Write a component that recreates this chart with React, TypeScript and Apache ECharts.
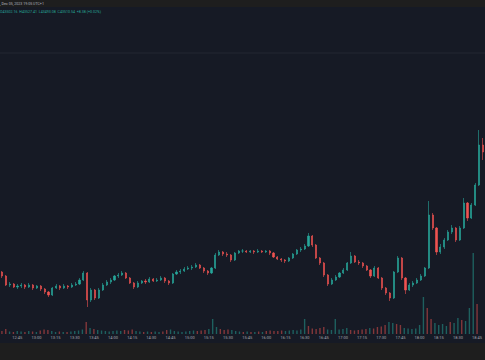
import React, { useEffect, useRef } from "react";
import * as echarts from "echarts";

// 3-minute candles from 12:33 to 18:45 (Dec 05, 2023)
const startMinutes = 12 * 60 + 33;
const candleCount = 125;
const times: string[] = [];
for (let i = 0; i < candleCount; i++) {
  const m = startMinutes + i * 3;
  const hh = Math.floor(m / 60);
  const mm = m % 60;
  times.push(`${hh}:${mm < 10 ? "0" + mm : mm}`);
}

const opens = [
  42280, 42240, 42150, 42160, 42130, 42140, 42150, 42130, 42150, 42120,
  42140, 42110, 42080, 42050, 42120, 42140, 42120, 42140, 42130, 42150,
  42160, 42200, 42270, 42000, 42100, 42020, 42100, 42150, 42180, 42200,
  42240, 42250, 42270, 42220, 42170, 42130, 42170, 42190, 42180, 42210,
  42190, 42200, 42220, 42190, 42170, 42260, 42280, 42290, 42310, 42320,
  42330, 42350, 42320, 42290, 42270, 42320, 42450, 42480, 42460, 42450,
  42400, 42470, 42490, 42490, 42480, 42490, 42480, 42490, 42480, 42490,
  42470, 42430, 42410, 42400, 42390, 42420, 42460, 42500, 42510, 42540,
  42640, 42550, 42420, 42370, 42250, 42160, 42200, 42230, 42270, 42300,
  42370, 42440, 42380, 42370, 42340, 42300, 42240, 42320, 42220, 42120,
  42070, 42020, 42280, 42420, 42220, 42100, 42150, 42170, 42200, 42240,
  42320, 42850, 42720, 42480, 42530, 42600, 42680, 42720, 42600, 42720,
  42970, 42820, 42950, 43150, 43550,
];
const closes = [
  42240, 42150, 42160, 42130, 42140, 42150, 42130, 42150, 42120, 42140,
  42110, 42080, 42050, 42120, 42140, 42120, 42140, 42130, 42150, 42160,
  42200, 42270, 42000, 42100, 42020, 42100, 42150, 42180, 42200, 42240,
  42250, 42270, 42220, 42170, 42130, 42170, 42190, 42180, 42210, 42190,
  42200, 42220, 42190, 42170, 42260, 42280, 42290, 42310, 42320, 42330,
  42350, 42320, 42290, 42270, 42320, 42450, 42480, 42460, 42450, 42400,
  42470, 42490, 42490, 42480, 42490, 42480, 42490, 42480, 42490, 42470,
  42430, 42410, 42400, 42390, 42420, 42460, 42500, 42510, 42540, 42640,
  42550, 42420, 42370, 42250, 42160, 42200, 42230, 42270, 42300, 42370,
  42440, 42380, 42370, 42340, 42300, 42240, 42320, 42220, 42120, 42070,
  42020, 42280, 42420, 42220, 42100, 42150, 42170, 42200, 42240, 42320,
  42850, 42720, 42480, 42530, 42600, 42680, 42720, 42600, 42720, 42970,
  42820, 42950, 43150, 43550, 43480,
];
const lows = [
  42220, 42140, 42130, 42120, 42110, 42120, 42110, 42120, 42100, 42110,
  42090, 42060, 42030, 42040, 42110, 42100, 42110, 42110, 42120, 42140,
  42150, 42190, 41930, 41980, 42000, 42010, 42090, 42140, 42160, 42190,
  42220, 42240, 42210, 42160, 42110, 42120, 42160, 42160, 42170, 42180,
  42180, 42190, 42170, 42150, 42160, 42250, 42260, 42280, 42300, 42300,
  42320, 42310, 42270, 42250, 42260, 42310, 42440, 42440, 42430, 42380,
  42390, 42460, 42470, 42470, 42470, 42460, 42470, 42470, 42470, 42450,
  42420, 42400, 42380, 42370, 42380, 42410, 42450, 42480, 42500, 42530,
  42530, 42410, 42350, 42230, 42140, 42150, 42190, 42220, 42260, 42290,
  42360, 42370, 42350, 42320, 42290, 42220, 42230, 42210, 42100, 42050,
  41990, 42010, 42270, 42200, 42060, 42090, 42130, 42160, 42190, 42230,
  42310, 42700, 42450, 42460, 42510, 42590, 42660, 42580, 42590, 42710,
  42790, 42810, 42940, 43140, 43400,
];
const highs = [
  42290, 42250, 42180, 42170, 42160, 42170, 42160, 42170, 42160, 42150,
  42150, 42120, 42090, 42130, 42160, 42150, 42160, 42150, 42170, 42180,
  42220, 42290, 42280, 42120, 42110, 42120, 42170, 42200, 42220, 42250,
  42270, 42290, 42280, 42230, 42180, 42190, 42200, 42210, 42230, 42220,
  42220, 42240, 42230, 42200, 42270, 42300, 42310, 42330, 42340, 42350,
  42370, 42360, 42330, 42300, 42330, 42470, 42500, 42490, 42480, 42460,
  42480, 42500, 42510, 42500, 42500, 42500, 42510, 42500, 42500, 42500,
  42480, 42440, 42420, 42410, 42430, 42470, 42510, 42530, 42560, 42670,
  42650, 42560, 42430, 42380, 42260, 42220, 42250, 42280, 42320, 42380,
  42480, 42450, 42400, 42380, 42350, 42310, 42340, 42330, 42230, 42130,
  42080, 42290, 42440, 42430, 42230, 42170, 42190, 42220, 42260, 42330,
  42990, 42870, 42730, 42560, 42620, 42700, 42750, 42730, 42740, 43020,
  42980, 42970, 43170, 43700, 43620,
];
const volumes = [
  30, 50, 25, 20, 30, 25, 20, 30, 25, 20,
  35, 45, 40, 30, 20, 25, 20, 20, 25, 30,
  35, 45, 120, 60, 50, 40, 35, 30, 25, 30,
  35, 30, 40, 35, 45, 30, 25, 20, 25, 20,
  25, 20, 25, 40, 45, 30, 25, 20, 25, 30,
  35, 30, 35, 40, 50, 150, 70, 50, 40, 45,
  40, 30, 25, 20, 25, 20, 20, 25, 20, 30,
  35, 30, 30, 35, 30, 35, 40, 35, 45, 150,
  80, 55, 50, 60, 70, 45, 40, 150, 45, 50,
  60, 40, 35, 40, 45, 50, 60, 55, 70, 75,
  90, 120, 110, 100, 90, 60, 55, 50, 55, 90,
  370, 260, 150, 110, 90, 100, 80, 120, 110, 160,
  140, 130, 260, 810, 300,
];

const headerLine1 = ", Dec 05, 2023 19:05 UTC+1";
const headerLine2 = "O43502.16  H43527.41  L43493.08  C43510.54  +8.38 (+0.02%)";

const UP = "#26a69a";
const DOWN = "#ef5350";

export default function App() {
  const ref = useRef<HTMLDivElement>(null);
  useEffect(() => {
    if (!ref.current) return;
    const chart = echarts.init(ref.current, undefined, { renderer: "svg" });
    const candleData = opens.map((o, i) => [o, closes[i], lows[i], highs[i]]);
    const volData = volumes.map((v, i) => ({
      value: v,
      itemStyle: {
        color: closes[i] >= opens[i] ? "rgba(38,166,154,0.5)" : "rgba(239,83,80,0.5)",
      },
    }));
    chart.setOption({
      animation: false,
      backgroundColor: "transparent",
      grid: [
        { left: -1.5, right: -1.5, top: 20, height: 320 },
        { left: -1.5, right: -1.5, top: 244, height: 90 },
      ],
      xAxis: [
        {
          type: "category",
          gridIndex: 0,
          data: times,
          show: false,
          boundaryGap: true,
        },
        {
          type: "category",
          gridIndex: 1,
          data: times,
          boundaryGap: true,
          axisLine: { show: false },
          axisTick: { show: false },
          splitLine: { show: false },
          axisLabel: {
            interval: (_idx: number, val: string) => /:(00|15|30|45)$/.test(val),
            color: "#a3a6af",
            fontSize: 4,
            fontFamily: "Roboto",
            margin: 1.5,
            hideOverlap: false,
          },
        },
      ],
      yAxis: [
        { type: "value", gridIndex: 0, min: 41600, max: 44800, show: false },
        { type: "value", gridIndex: 1, min: 0, max: 900, show: false },
      ],
      graphic: [
        {
          type: "line",
          shape: { x1: 0, y1: 53, x2: 485, y2: 53 },
          style: { stroke: "#232733", lineWidth: 1 },
          silent: true,
        },
        {
          type: "text",
          left: 0,
          top: 2,
          style: {
            text: headerLine1,
            fill: "#b2b5be",
            fontSize: 3.6,
            fontFamily: "Roboto",
          },
        },
        {
          type: "text",
          left: 0,
          top: 10,
          style: {
            text: headerLine2,
            fill: "#26a69a",
            fontSize: 3.6,
            fontFamily: "Roboto",
          },
        },
      ],
      series: [
        {
          type: "candlestick",
          xAxisIndex: 0,
          yAxisIndex: 0,
          data: candleData,
          barWidth: 1.6,
          itemStyle: {
            color: UP,
            color0: DOWN,
            borderColor: UP,
            borderColor0: DOWN,
            borderWidth: 0.6,
          },
        },
        {
          type: "bar",
          xAxisIndex: 1,
          yAxisIndex: 1,
          data: volData,
          barWidth: 1.4,
        },
      ],
    });
    return () => chart.dispose();
  }, []);

  return (
    <div
      style={{
        position: "fixed",
        left: 0,
        top: 0,
        width: 485,
        height: 360,
        background: "#1e1e1e",
        overflow: "hidden",
      }}
    >
      <div
        style={{
          position: "absolute",
          left: 0,
          top: 7,
          width: 485,
          height: 336,
          background: "#161a25",
        }}
      />
      <div
        ref={ref}
        style={{ position: "absolute", left: 0, top: 0, width: 485, height: 360 }}
      />
    </div>
  );
}
